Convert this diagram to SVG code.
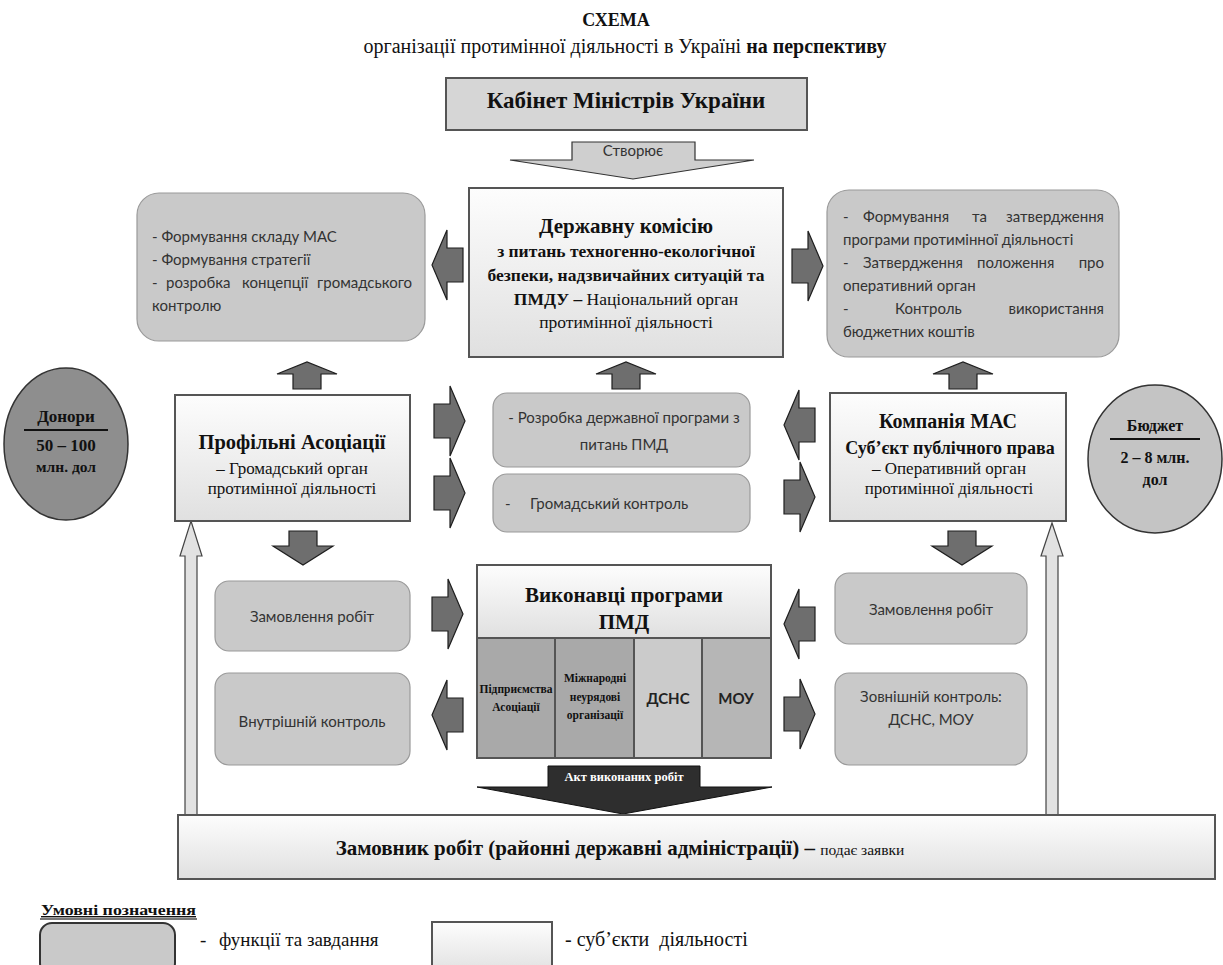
<svg xmlns="http://www.w3.org/2000/svg" width="1223" height="965" viewBox="0 0 1223 965">
<defs>
<linearGradient id="ent" x1="0" y1="0" x2="0" y2="1">
<stop offset="0" stop-color="#fdfdfd"/>
<stop offset="1" stop-color="#e0e0e0"/>
</linearGradient>
<polygon id="arR" points="0,18 16,18 16,0 31,35 16,70 16,52 0,52"/>
<polygon id="arL" points="31,18 15,18 15,0 0,35 15,70 15,52 31,52"/>
<polygon id="arU" points="16,27 16,12 0,12 30,0 60,12 44,12 44,27"/>
<polygon id="arD" points="16,0 16,15 0,15 30,34 60,15 44,15 44,0"/>
</defs>
<style>
.ser{font-family:"Liberation Serif","Times New Roman",serif;fill:#111}
.b{font-weight:bold}
.san{font-family:Lato,"Open Sans",sans-serif;fill:#333;font-size:15px}
.fn{fill:#c9c9c9;stroke:#9a9a9a;stroke-width:1.2}
.en{fill:url(#ent);stroke:#555;stroke-width:2}
.blk{fill:#6e6e6e;stroke:#1e1e1e;stroke-width:1.2}
.hol{fill:#e2e2e2;stroke:#444;stroke-width:1.2}
.c{text-anchor:middle}
.e{text-anchor:end}
</style>
<rect width="1223" height="965" fill="#fff"/>

<g id="title">
<text class="ser b c" x="616" y="26" font-size="18">СХЕМА</text>
<text class="ser c" x="625" y="53" font-size="20">організації протимінної діяльності в Україні <tspan class="b">на перспективу</tspan></text>
</g>

<g id="cabinet">
<rect x="446" y="78" width="361" height="52" fill="#d6d6d6" stroke="#555" stroke-width="2"/>
<text class="ser b c" x="626" y="108" font-size="23">Кабінет Міністрів України</text>
</g>

<g id="connectors">
<polygon points="572,142 695,142 695,160 754,160 633,179 510,160 572,160" fill="#cfcfcf" stroke="#333" stroke-width="1.2"/>
<text class="san c" x="633" y="156" font-size="14">Створює</text>
<use href="#arL" class="blk" x="432" y="230"/>
<use href="#arR" class="blk" x="792" y="231"/>
<use href="#arU" class="blk" x="277" y="362"/>
<use href="#arU" class="blk" x="596" y="362"/>
<use href="#arU" class="blk" x="933" y="362"/>
<use href="#arR" class="blk" x="434" y="386"/>
<use href="#arR" class="blk" x="434" y="458"/>
<use href="#arL" class="blk" x="784" y="390"/>
<use href="#arR" class="blk" x="784" y="462"/>
<use href="#arD" class="blk" x="273" y="531"/>
<use href="#arD" class="blk" x="932" y="531"/>
<use href="#arR" class="blk" x="432" y="579"/>
<use href="#arL" class="blk" x="432" y="680"/>
<use href="#arL" class="blk" x="784" y="589"/>
<use href="#arR" class="blk" x="784" y="679"/>
<polygon class="hol" points="185,815 185,556 180,556 191,521 202,556 197,556 197,815"/>
<polygon class="hol" points="1046,815 1046,556 1041,556 1052,523 1063,556 1058,556 1058,815"/>
<polygon points="548,766 700,766 700,787 772,787 623,814 477,787 548,787" fill="#2e2e2e" stroke="#111" stroke-width="1"/>
<text class="ser b c" x="624" y="781" font-size="12.5" style="fill:#fff">Акт виконаних робіт</text>
</g>

<g id="func-left">
<rect class="fn" x="137" y="193" width="288" height="148" rx="22"/>
<text class="san" x="152" y="242">- Формування складу МАС</text>
<text class="san" x="152" y="265">- Формування стратегії</text>
<text class="san" x="152" y="288">-</text>
<text class="san" x="166" y="288">розробка</text>
<text class="san" x="242" y="288">концепції</text>
<text class="san e" x="412" y="288">громадського</text>
<text class="san" x="152" y="311">контролю</text>
</g>

<g id="commission">
<rect class="en" x="469" y="188" width="314" height="169"/>
<text class="ser b c" x="626" y="233" font-size="21">Державну комісію</text>
<text class="ser b c" x="626" y="257" font-size="17.5">з питань техногенно-екологічної</text>
<text class="ser b c" x="626" y="281" font-size="17.5">безпеки, надзвичайних ситуацій та</text>
<text class="ser c" x="626" y="305" font-size="17.5"><tspan class="b">ПМДУ –</tspan> Національний орган</text>
<text class="ser c" x="626" y="328" font-size="17.5">протимінної діяльності</text>
</g>

<g id="func-right">
<rect class="fn" x="827" y="190" width="292" height="167" rx="22"/>
<text class="san" x="843" y="222">-</text>
<text class="san" x="863" y="222">Формування</text>
<text class="san" x="972" y="222">та</text>
<text class="san e" x="1104" y="222">затвердження</text>
<text class="san" x="843" y="245">програми протимінної діяльності</text>
<text class="san" x="843" y="268">-</text>
<text class="san" x="863" y="268">Затвердження</text>
<text class="san" x="977" y="268">положення</text>
<text class="san e" x="1104" y="268">про</text>
<text class="san" x="843" y="291">оперативний орган</text>
<text class="san" x="843" y="314">-</text>
<text class="san" x="895" y="314">Контроль</text>
<text class="san e" x="1104" y="314">використання</text>
<text class="san" x="843" y="337">бюджетних коштів</text>
</g>

<g id="donors">
<ellipse cx="66" cy="444" rx="62" ry="76" fill="#8e8e8e" stroke="#333" stroke-width="1.5"/>
<text class="ser b c" x="66" y="422" font-size="17">Донори</text>
<line x1="24" y1="430" x2="108" y2="430" stroke="#111" stroke-width="2"/>
<text class="ser b c" x="66" y="451" font-size="17">50 – 100</text>
<text class="ser b c" x="66" y="472" font-size="15.5">млн. дол</text>
</g>

<g id="associations">
<rect class="en" x="175" y="395" width="235" height="126"/>
<text class="ser b c" x="292" y="449" font-size="20.5">Профільні Асоціації</text>
<text class="ser c" x="292" y="474" font-size="17">– Громадський орган</text>
<text class="ser c" x="292" y="494" font-size="17">протимінної діяльності</text>
</g>

<g id="func-program">
<rect class="fn" x="493" y="393" width="257" height="74" rx="14"/>
<text class="san c" x="624" y="423">- Розробка державної програми з</text>
<text class="san c" x="624" y="450">питань ПМД</text>
</g>

<g id="func-public">
<rect class="fn" x="493" y="474" width="257" height="58" rx="14"/>
<text class="san" x="505" y="509">-</text>
<text class="san" x="530" y="509">Громадський контроль</text>
</g>

<g id="company">
<rect class="en" x="830" y="393" width="236" height="128"/>
<text class="ser b c" x="948" y="428" font-size="20">Компанія МАС</text>
<text class="ser b c" x="950" y="454" font-size="18">Суб’єкт публічного права</text>
<text class="ser c" x="949" y="474" font-size="17">– Оперативний орган</text>
<text class="ser c" x="949" y="494" font-size="17">протимінної діяльності</text>
</g>

<g id="budget">
<ellipse cx="1155" cy="459" rx="67" ry="74" fill="#c4c4c4" stroke="#333" stroke-width="1.5"/>
<text class="ser b c" x="1155" y="431" font-size="16">Бюджет</text>
<line x1="1110" y1="439" x2="1200" y2="439" stroke="#111" stroke-width="2"/>
<text class="ser b c" x="1155" y="463" font-size="16">2 – 8 млн.</text>
<text class="ser b c" x="1155" y="485" font-size="16">дол</text>
</g>

<g id="order-left">
<rect class="fn" x="215" y="581" width="195" height="70" rx="14"/>
<text class="san c" x="312" y="622">Замовлення робіт</text>
</g>

<g id="control-internal">
<rect class="fn" x="215" y="673" width="195" height="92" rx="14"/>
<text class="san c" x="312" y="727">Внутрішній контроль</text>
</g>

<g id="executors">
<rect class="en" x="477" y="565" width="294" height="73"/>
<text class="ser b c" x="624" y="602" font-size="21">Виконавці програми</text>
<text class="ser b c" x="624" y="629" font-size="21">ПМД</text>
<rect x="477" y="638" width="78" height="120" fill="#a9a9a9" stroke="#555" stroke-width="2"/>
<rect x="555" y="638" width="79" height="120" fill="#a9a9a9" stroke="#555" stroke-width="2"/>
<rect x="634" y="638" width="68" height="120" fill="#cbcbcb" stroke="#555" stroke-width="2"/>
<rect x="702" y="638" width="69" height="120" fill="#b6b6b6" stroke="#555" stroke-width="2"/>
<text class="ser b c" x="516" y="693" font-size="11.5">Підприємства</text>
<text class="ser b c" x="516" y="711" font-size="11.5">Асоціації</text>
<text class="ser b c" x="595" y="682" font-size="11.5">Міжнародні</text>
<text class="ser b c" x="595" y="701" font-size="11.5">неурядові</text>
<text class="ser b c" x="595" y="719" font-size="11.5">організації</text>
<text class="san b c" x="668" y="704" font-size="16" style="fill:#222">ДСНС</text>
<text class="san b c" x="736" y="704" font-size="16" style="fill:#222">МОУ</text>
</g>

<g id="order-right">
<rect class="fn" x="835" y="573" width="192" height="71" rx="14"/>
<text class="san c" x="931" y="615">Замовлення робіт</text>
</g>

<g id="control-external">
<rect class="fn" x="835" y="673" width="192" height="92" rx="14"/>
<text class="san c" x="931" y="702">Зовнішній контроль:</text>
<text class="san c" x="931" y="725">ДСНС, МОУ</text>
</g>

<g id="customer">
<rect class="en" x="178" y="815" width="1037" height="64"/>
<text class="ser c" x="620" y="855" font-size="21"><tspan class="b">Замовник робіт (районні державні адміністрації) –</tspan> <tspan font-size="15.5">подає заявки</tspan></text>
</g>

<g id="legend">
<text class="ser b" x="41" y="915" font-size="14" textLength="155" lengthAdjust="spacingAndGlyphs" text-decoration="underline">Умовні позначення</text>
<line x1="40" y1="919" x2="197" y2="919" stroke="#777" stroke-width="2"/>
<rect x="40" y="923" width="135" height="52" rx="12" fill="#c9c9c9" stroke="#333" stroke-width="2"/>
<text class="ser" x="200" y="946" font-size="19">-</text>
<text class="ser" x="219" y="946" font-size="19">функції та завдання</text>
<rect class="en" x="432" y="922" width="120" height="53"/>
<text class="ser" x="565" y="946" font-size="20" xml:space="preserve">- суб’єкти  діяльності</text>
</g>
</svg>
